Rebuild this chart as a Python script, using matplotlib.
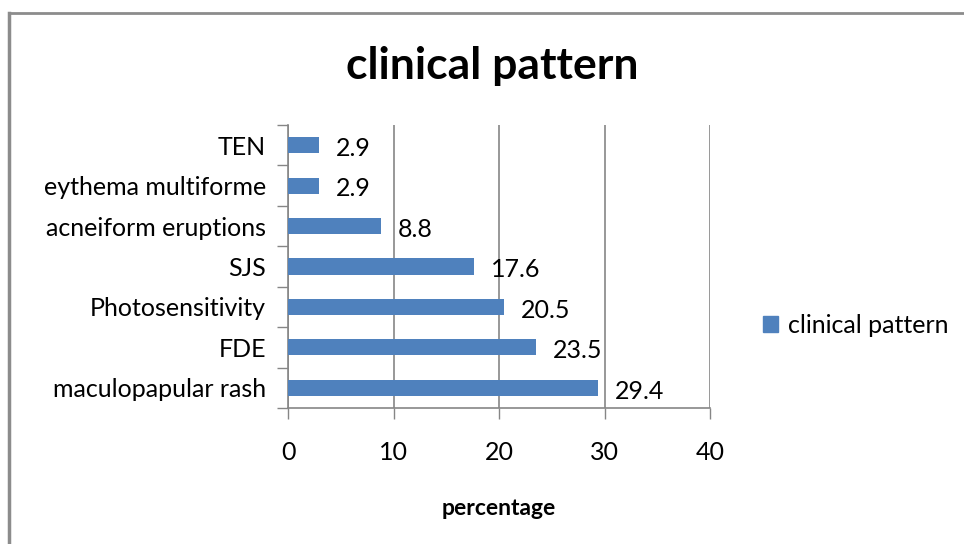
import matplotlib
matplotlib.use("Agg")
import matplotlib.pyplot as plt
import matplotlib.patches as mpatches
import numpy as np

plt.rcParams['font.family'] = ['Lato', 'DejaVu Sans']

categories = ['TEN', 'eythema multiforme', 'acneiform eruptions', 'SJS',
              'Photosensitivity', 'FDE', 'maculopapular rash']
values = [2.9, 2.9, 8.8, 17.6, 20.5, 23.5, 29.4]
x_ticks = [0, 10, 20, 30, 40]
series_name = 'clinical pattern'

bar_color = '#4F81BD'
grid_color = '#868686'
fs = 18

fig = plt.figure(figsize=(9.64, 5.44), dpi=100)
ax = fig.add_axes([0.2988, 0.25, 0.4377, 0.5202])

# top category first, like Excel's reversed order
ypos = np.arange(len(categories))[::-1]
ax.barh(ypos, values, height=0.4, color=bar_color, zorder=3, label=series_name)

for y, v in zip(ypos, values):
    ax.text(v + 1.6, y - 0.08, f'{v}', va='center', ha='left', fontsize=fs, color='black')

ax.set_xlim(0, 40)
ax.set_ylim(-0.5, len(categories) - 0.5)
ax.set_xticks(x_ticks)
ax.set_xticklabels([str(t) for t in x_ticks], fontsize=fs)
ax.set_yticks(ypos)
ax.set_yticklabels(categories, fontsize=fs)
ax.set_yticks(np.arange(-0.5, len(categories), 1.0), minor=True)

ax.tick_params(axis='y', which='major', length=0, pad=16)
ax.tick_params(axis='y', which='minor', length=8, width=1, color=grid_color, direction='out')
ax.tick_params(axis='x', which='major', length=8, width=1, color=grid_color, direction='out', pad=16)

ax.grid(axis='x', color=grid_color, linewidth=1.2, zorder=0)
for s in ['top', 'right']:
    ax.spines[s].set_visible(False)
for s in ['left', 'bottom']:
    ax.spines[s].set_color(grid_color)
    ax.spines[s].set_linewidth(1.2)

ax.set_xlabel('percentage', fontsize=16.5, fontweight='bold', labelpad=24)

fig.text(0.511, 0.878, 'clinical pattern', ha='center', va='center',
         fontsize=32, fontweight='bold')

handle = mpatches.Patch(color=bar_color, label=series_name)
fig.legend(handles=[handle], loc='center left', bbox_to_anchor=(0.781, 0.402),
           frameon=False, fontsize=fs, handlelength=0.6, handleheight=0.6,
           handletextpad=0.4, borderaxespad=0)

# chart area border (only left and top edges visible)
fig.add_artist(plt.Line2D([0.0095, 0.0095], [0, 0.976], color='#8c8c8c', linewidth=2.5,
                          transform=fig.transFigure))
fig.add_artist(plt.Line2D([0.0095, 1.0], [0.976, 0.976], color='#8c8c8c', linewidth=2.0,
                          transform=fig.transFigure))

fig.savefig('out.png', dpi=100)
